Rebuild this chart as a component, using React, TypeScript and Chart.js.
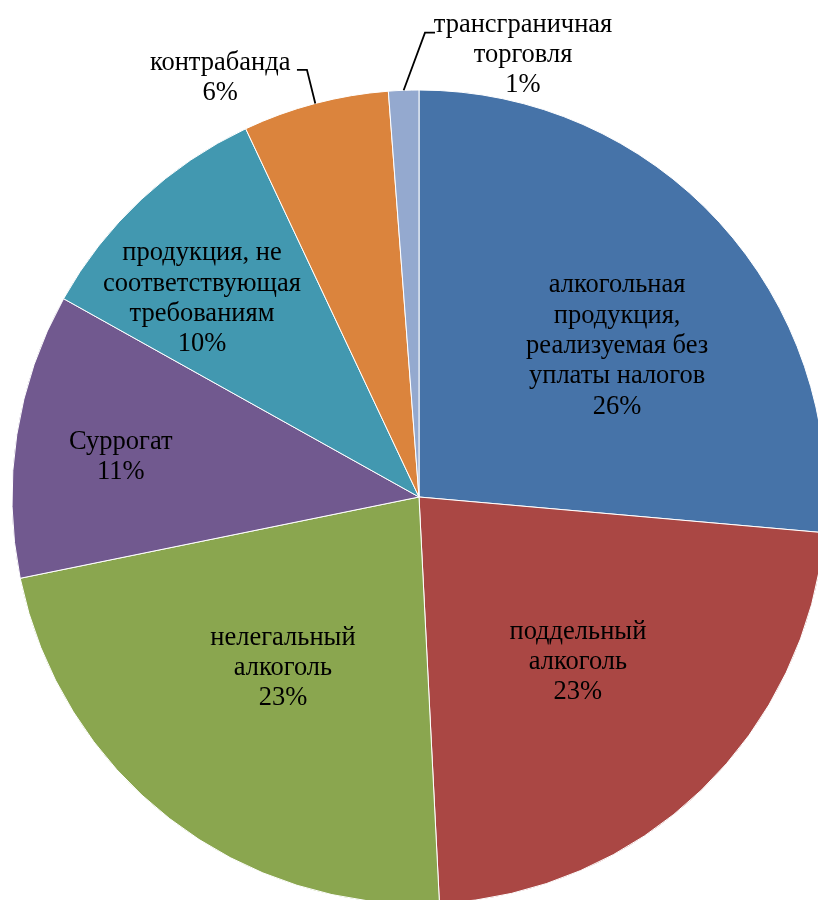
import React, { useEffect, useRef } from "react";
import { Chart, registerables } from "chart.js";

Chart.register(...registerables);

// Category names (split into the lines shown on the chart)
const categories: string[][] = [
  ["алкогольная", "продукция,", "реализуемая без", "уплаты налогов"],
  ["поддельный", "алкоголь"],
  ["нелегальный", "алкоголь"],
  ["Суррогат"],
  ["продукция, не", "соответствующая", "требованиям"],
  ["контрабанда"],
  ["трансграничная", "торговля"],
];

// Shares, %
const shares: number[] = [26.4, 22.8, 22.6, 11.3, 9.9, 5.8, 1.2];

const colors: string[] = [
  "#4673A8",
  "#AA4744",
  "#8AA64F",
  "#71598F",
  "#4298B0",
  "#DB843D",
  "#94A9CF",
];

// Label placement: angle in degrees clockwise from 12 o'clock, radius as fraction of pie radius
type Leader = { angle: number; r: number; dx: number };
type LabelPos = { angle: number; r: number; leader?: Leader };
const labelLayout: LabelPos[] = [
  { angle: 52.7, r: 0.612 },
  { angle: 136.1, r: 0.563 },
  { angle: 218.5, r: 0.537 },
  { angle: 277.6, r: 0.739 },
  { angle: 312.4, r: 0.722 },
  { angle: 334.6, r: 1.139, leader: { angle: 345.3, r: 1.085, dx: -10 } },
  { angle: 13.24, r: 1.116, leader: { angle: 0.74, r: 1.141, dx: 10 } },
];

const FONT = "26.5px 'Liberation Serif', 'Times New Roman', serif";
const LINE_HEIGHT = 30.3;

const labelPlugin = {
  id: "pieLabels",
  afterDatasetsDraw(chart: any) {
    const meta = chart.getDatasetMeta(0);
    const ctx: CanvasRenderingContext2D = chart.ctx;
    const values: number[] = chart.data.datasets[0].data;
    const total = values.reduce((a, b) => a + b, 0);
    ctx.save();
    ctx.font = FONT;
    ctx.fillStyle = "#000";
    ctx.textAlign = "center";
    ctx.textBaseline = "middle";
    meta.data.forEach((el: any, i: number) => {
      const { x, y, outerRadius, startAngle, endAngle } = el.getProps(
        ["x", "y", "outerRadius", "startAngle", "endAngle"],
        true
      );
      const lay = labelLayout[i];
      const toXY = (deg: number, rf: number) => {
        const a = ((deg - 90) * Math.PI) / 180;
        return { px: x + Math.cos(a) * outerRadius * rf, py: y + Math.sin(a) * outerRadius * rf };
      };
      if (lay.leader) {
        const mid = (startAngle + endAngle) / 2;
        const sx = x + Math.cos(mid) * outerRadius;
        const sy = y + Math.sin(mid) * outerRadius;
        const e = toXY(lay.leader.angle, lay.leader.r);
        ctx.beginPath();
        ctx.strokeStyle = "#000";
        ctx.lineWidth = 1.8;
        ctx.moveTo(sx, sy);
        ctx.lineTo(e.px, e.py);
        ctx.lineTo(e.px + lay.leader.dx, e.py);
        ctx.stroke();
      }
      const pct = Math.round((values[i] / total) * 100) + "%";
      const lines = [...categories[i], pct];
      const c = toXY(lay.angle, lay.r);
      const top = c.py - ((lines.length - 1) * LINE_HEIGHT) / 2;
      lines.forEach((t, k) => {
        ctx.fillText(t, c.px, top + k * LINE_HEIGHT);
      });
    });
    ctx.restore();
  },
};

export default function App() {
  const ref = useRef<HTMLCanvasElement | null>(null);

  useEffect(() => {
    if (!ref.current) return;
    const chart = new Chart(ref.current, {
      type: "pie",
      data: {
        labels: categories.map((c) => c.join(" ")),
        datasets: [
          {
            data: shares,
            backgroundColor: colors,
            borderColor: "#ffffff",
            borderWidth: 1,
          },
        ],
      },
      options: {
        responsive: false,
        animation: false,
        radius: 407,
        layout: { padding: 0 },
        plugins: {
          legend: { display: false },
          tooltip: { enabled: false },
        },
      } as any,
      plugins: [labelPlugin],
    });
    return () => chart.destroy();
  }, []);

  return (
    <div
      style={{
        position: "fixed",
        left: 0,
        top: 0,
        width: 818,
        height: 900,
        overflow: "hidden",
        background: "#fff",
      }}
    >
      <canvas
        ref={ref}
        width={838}
        height={994}
        style={{ width: 838, height: 994, display: "block" }}
      />
    </div>
  );
}
